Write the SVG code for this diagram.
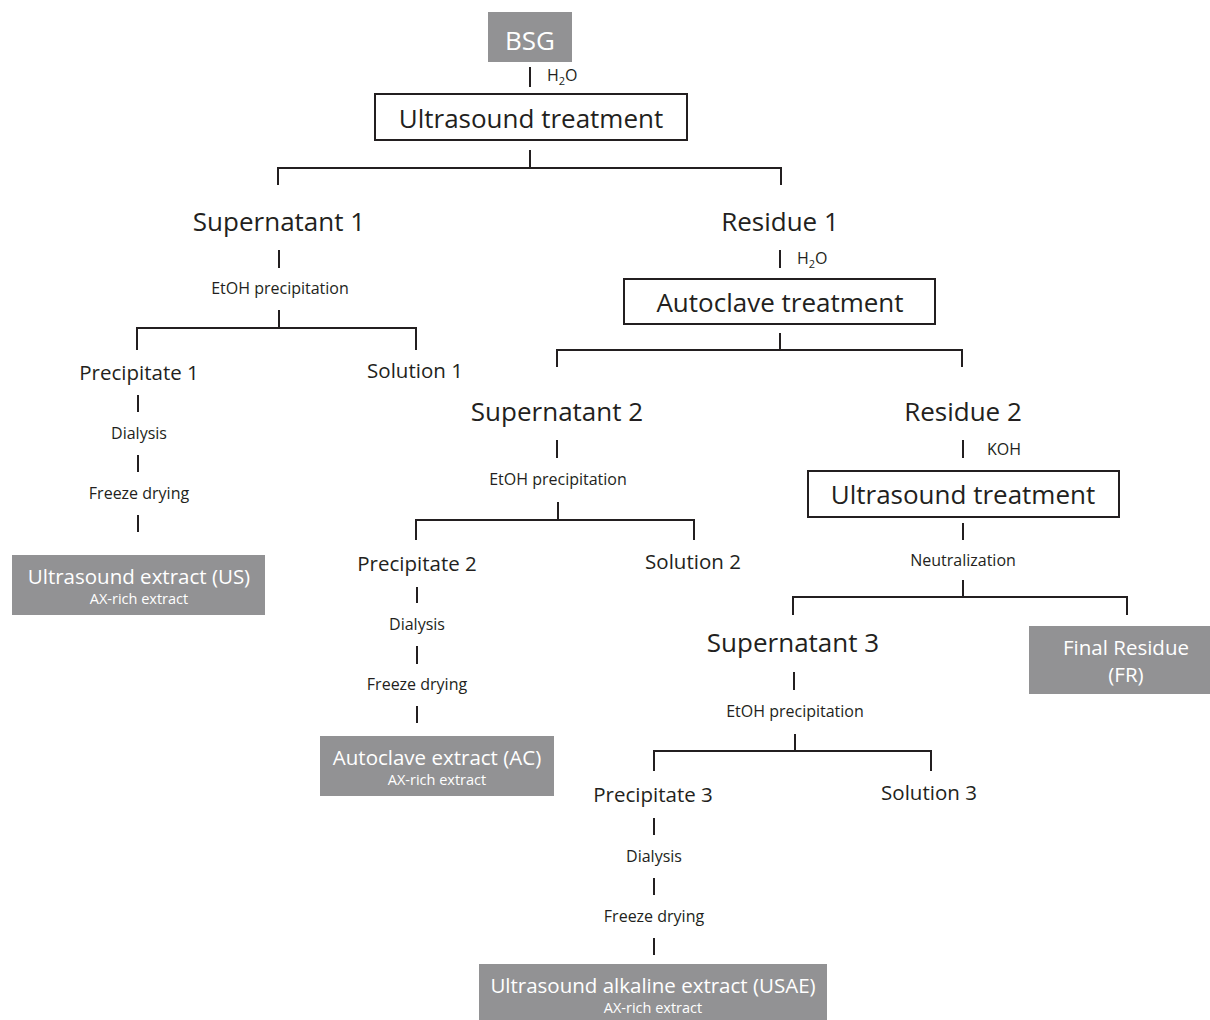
<svg xmlns="http://www.w3.org/2000/svg" width="1210" height="1020" viewBox="0 0 1210 1020">
<style>
text{font-family:"Open Sans","Liberation Sans",sans-serif;fill:#231f20;text-anchor:middle}
.big{font-size:26px}
.mid{font-size:20.5px}
.sm{font-size:16px}
.w{fill:#fff}
.wsub{fill:#fff;font-size:14.5px}
.gray{fill:#929294}
.box{fill:#fff;stroke:#231f20;stroke-width:2}
.ln{fill:none;stroke:#231f20;stroke-width:2}
</style>
<rect width="1210" height="1020" fill="#fff"/>
<g id="connectors" class="ln">
<path d="M530 67V87M530 150V168M278 185V168H781V185"/>
<path d="M279 250V268M279 310V328M137 350V328H416V350"/>
<path d="M138 395V412M138 455V472M138 515V532"/>
<path d="M780 250V268M780 333V350M557 367V350H962V367"/>
<path d="M557 440V458M558 502V520M416 540V520H694V540"/>
<path d="M417 587V603M417 646V664M417 706V723"/>
<path d="M963 440V458M963 523V540M963 580V597M793 615V597H1127V615"/>
<path d="M794 672V690M795 734V751M654 771V751H931V771"/>
<path d="M654 818V835M654 878V895M654 938V955"/>
</g>
<g id="bsg"><rect class="gray" x="488" y="12" width="84" height="50"/><text class="big w" x="530" y="50">BSG</text></g>
<g id="h2o1"><text class="sm" x="547" y="81" style="text-anchor:start">H<tspan font-size="11" dy="4">2</tspan><tspan dy="-4">O</tspan></text></g>
<g id="us1"><rect class="box" x="375" y="94" width="312" height="46"/><text class="big" x="531" y="128">Ultrasound treatment</text></g>
<g id="sup1"><text class="big" x="279" y="231">Supernatant 1</text></g>
<g id="res1"><text class="big" x="780" y="231">Residue 1</text></g>
<g id="etoh1"><text class="sm" x="280" y="294">EtOH precipitation</text></g>
<g id="prec1"><text class="mid" x="139" y="380">Precipitate 1</text></g>
<g id="sol1"><text class="mid" x="415" y="378">Solution 1</text></g>
<g id="dia1"><text class="sm" x="139" y="439">Dialysis</text></g>
<g id="fd1"><text class="sm" x="139" y="499">Freeze drying</text></g>
<g id="usx"><rect class="gray" x="12" y="555" width="253" height="60"/><text class="mid w" x="139" y="584">Ultrasound extract (US)</text><text class="wsub" x="139" y="604">AX-rich extract</text></g>
<g id="h2o2"><text class="sm" x="797" y="264" style="text-anchor:start">H<tspan font-size="11" dy="4">2</tspan><tspan dy="-4">O</tspan></text></g>
<g id="ac"><rect class="box" x="624" y="279" width="311" height="45"/><text class="big" x="780" y="312">Autoclave treatment</text></g>
<g id="sup2"><text class="big" x="557" y="421">Supernatant 2</text></g>
<g id="res2"><text class="big" x="963" y="421">Residue 2</text></g>
<g id="etoh2"><text class="sm" x="558" y="485">EtOH precipitation</text></g>
<g id="prec2"><text class="mid" x="417" y="571">Precipitate 2</text></g>
<g id="sol2"><text class="mid" x="693" y="569">Solution 2</text></g>
<g id="dia2"><text class="sm" x="417" y="630">Dialysis</text></g>
<g id="fd2"><text class="sm" x="417" y="690">Freeze drying</text></g>
<g id="acx"><rect class="gray" x="320" y="736" width="234" height="60"/><text class="mid w" x="437" y="765">Autoclave extract (AC)</text><text class="wsub" x="437" y="785">AX-rich extract</text></g>
<g id="koh"><text class="sm" x="987" y="455" style="text-anchor:start">KOH</text></g>
<g id="us2"><rect class="box" x="808" y="471" width="311" height="46"/><text class="big" x="963" y="504">Ultrasound treatment</text></g>
<g id="neut"><text class="sm" x="963" y="566">Neutralization</text></g>
<g id="sup3"><text class="big" x="793" y="652">Supernatant 3</text></g>
<g id="fr"><rect class="gray" x="1029" y="626" width="181" height="68"/><text class="mid w" x="1126" y="655">Final Residue</text><text class="mid w" x="1126" y="682">(FR)</text></g>
<g id="etoh3"><text class="sm" x="795" y="717">EtOH precipitation</text></g>
<g id="prec3"><text class="mid" x="653" y="802">Precipitate 3</text></g>
<g id="sol3"><text class="mid" x="929" y="800">Solution 3</text></g>
<g id="dia3"><text class="sm" x="654" y="862">Dialysis</text></g>
<g id="fd3"><text class="sm" x="654" y="922">Freeze drying</text></g>
<g id="usae"><rect class="gray" x="479" y="964" width="348" height="56"/><text class="mid w" x="653" y="993">Ultrasound alkaline extract (USAE)</text><text class="wsub" x="653" y="1013">AX-rich extract</text></g>
</svg>
